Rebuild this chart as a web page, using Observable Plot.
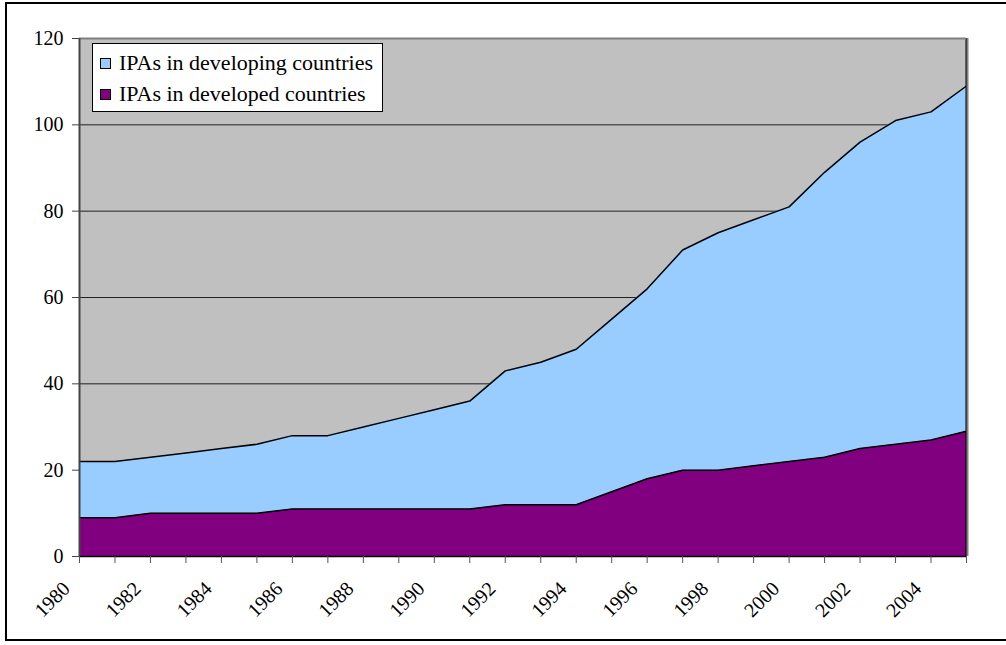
<!DOCTYPE html>
<html>
<head>
<meta charset="utf-8">
<script src="https://cdn.jsdelivr.net/npm/d3@7"></script>
<script src="https://cdn.jsdelivr.net/npm/@observablehq/plot@0.6"></script>
<style>
  html, body { margin: 0; padding: 0; background: #fff; }
  #wrap { position: relative; width: 1006px; height: 645px; overflow: hidden; font-family: "Liberation Serif", "Times New Roman", serif; }
  #border { position: absolute; left: 5px; top: 2px; width: 1010px; height: 639px; border: 2px solid #000; box-sizing: border-box; }
  #chart { position: absolute; left: 0; top: 0; }
  #legend { position: absolute; left: 92px; top: 43px; width: 291px; height: 69px; background: #fff; border: 1px solid #000; box-sizing: border-box; }
  .item { position: absolute; left: 7px; height: 24px; line-height: 24px; font-size: 22px; color: #000; white-space: nowrap; }
  .sw { display: inline-block; width: 9px; height: 9px; border: 1px solid #000; margin-right: 8px; vertical-align: 1px; }
</style>
</head>
<body>
<div id="wrap">
  <div id="border"></div>
  <div id="chart"></div>
  <div id="legend"></div>
</div>
<script>
const years = [1980,1981,1982,1983,1984,1985,1986,1987,1988,1989,1990,1991,1992,1993,1994,1995,1996,1997,1998,1999,2000,2001,2002,2003,2004,2005];
const developed = [9,9,10,10,10,10,11,11,11,11,11,11,12,12,12,15,18,20,20,21,22,23,25,26,27,29];
const developing = [13,13,13,14,15,16,17,17,19,21,23,25,31,33,36,40,44,51,55,57,59,66,71,75,76,80];
const seriesNames = ["IPAs in developed countries", "IPAs in developing countries"];
const seriesColors = ["#800080", "#99CCFF"];
const legendOrder = ["IPAs in developing countries", "IPAs in developed countries"];
const yTicks = [0,20,40,60,80,100,120];
const xLabelYears = [1980,1982,1984,1986,1988,1990,1992,1994,1996,1998,2000,2002,2004];

const data = [];
years.forEach((y, i) => data.push({year: y, value: developed[i], series: seriesNames[0]}));
years.forEach((y, i) => data.push({year: y, value: developing[i], series: seriesNames[1]}));

const font = "Liberation Serif, Times New Roman, serif";

const chart = Plot.plot({
  width: 1006,
  height: 645,
  marginLeft: 79,
  marginRight: 40,
  marginTop: 38,
  marginBottom: 89,
  style: {fontFamily: font, fontSize: "20px", background: "transparent", overflow: "visible"},
  x: {domain: [1980, 2005], label: null},
  y: {domain: [0, 120], label: null},
  color: {domain: seriesNames, range: seriesColors},
  marks: [
    Plot.frame({fill: "#C0C0C0", stroke: null}),
    Plot.ruleY(yTicks.filter(d => d > 0 && d < 120), {stroke: "#222", strokeWidth: 1}),
    Plot.areaY(data, Plot.stackY({x: "year", y: "value", z: "series", fill: "series", curve: "linear"})),
    Plot.lineY(data, Plot.stackY2({x: "year", y: "value", z: "series", stroke: "#000", strokeWidth: 1.5})),
    Plot.ruleX([2005], {stroke: "#000", strokeWidth: 2}),
    Plot.ruleY([120], {stroke: "#808080", strokeWidth: 2}),
    Plot.ruleX([2005], {y1: 120, y2: 0, stroke: "#808080", strokeWidth: 2, dx: 1}),
    Plot.ruleX([1980], {stroke: "#444", strokeWidth: 2}),
    Plot.ruleY([0], {stroke: "#000", strokeWidth: 1.5}),
    Plot.axisY({ticks: yTicks, tickSize: 7, tickPadding: 9, tickFormat: d => String(d), stroke: "#444", fontSize: 20, fill: "#000"}),
    Plot.axisX({ticks: years, tickSize: 7, tickFormat: () => "", stroke: "#555"}),
    Plot.text(xLabelYears, {x: d => d, y: 0, text: d => String(d), rotate: -45, textAnchor: "end", lineAnchor: "middle", dx: -13, dy: 29, fontSize: 20, fill: "#000"})
  ]
});
document.getElementById("chart").appendChild(chart);

const legend = document.getElementById("legend");
legendOrder.forEach((name, i) => {
  const el = document.createElement("div");
  el.className = "item";
  el.style.top = (7 + i * 31) + "px";
  const sw = document.createElement("span");
  sw.className = "sw";
  sw.style.background = seriesColors[seriesNames.indexOf(name)];
  el.appendChild(sw);
  el.appendChild(document.createTextNode(name));
  legend.appendChild(el);
});
</script>
</body>
</html>
